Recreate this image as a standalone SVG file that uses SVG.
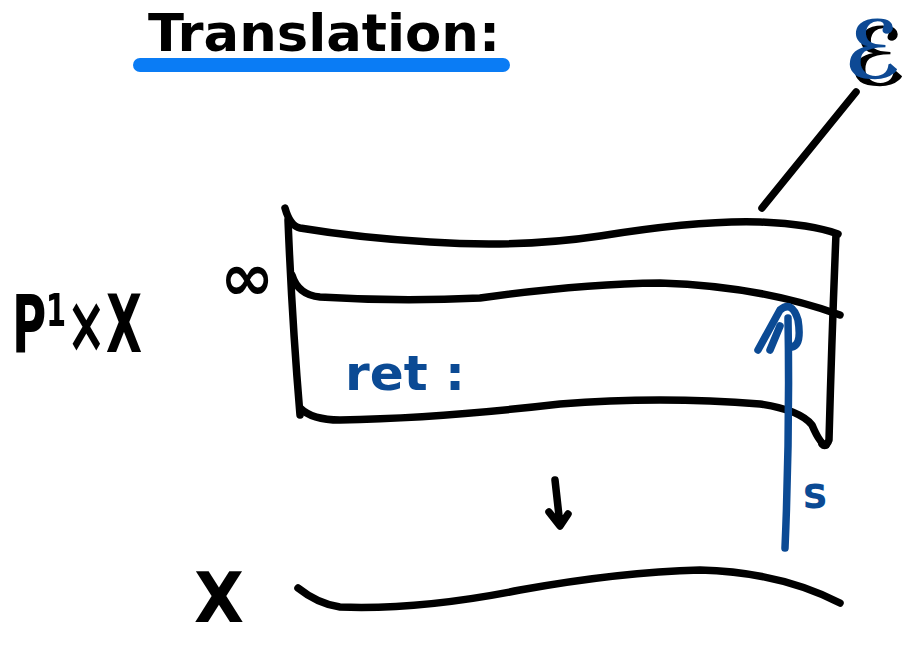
<svg xmlns="http://www.w3.org/2000/svg" width="911" height="645" viewBox="0 0 911 645">
<style>
.k{fill:none;stroke:#000;stroke-width:7.5;stroke-linecap:round;stroke-linejoin:round}
.b{fill:none;stroke:#0b4a94;stroke-width:7.5;stroke-linecap:round;stroke-linejoin:round}
.t{font-family:"DejaVu Sans Condensed","Liberation Sans",sans-serif;fill:#000}
.tb{font-family:"DejaVu Sans Condensed","Liberation Sans",sans-serif;fill:#0b4a94}
</style>
<defs>
<filter id="sh" x="-20%" y="-20%" width="160%" height="160%">
<feOffset in="SourceAlpha" dx="5" dy="7" result="o"/>
<feMerge><feMergeNode in="o"/><feMergeNode in="SourceGraphic"/></feMerge>
</filter>
</defs>
<rect width="911" height="645" fill="#fff"/>
<g id="title">
<text class="t" x="148" y="51" font-size="52" font-weight="bold" textLength="352" lengthAdjust="spacingAndGlyphs">Translation:</text>
<line x1="140" y1="65" x2="503" y2="65" stroke="#0a7cf5" stroke-width="14" stroke-linecap="round"/>
</g>
<g id="bundle">
<path class="k" d="M285,208 Q290,226 300,228 Q360,238 430,242 Q520,248 600,236 Q700,220 760,222 Q810,224 838,234"/>
<path class="k" d="M288,220 Q292,320 300,415"/>
<path class="k" d="M836,234 Q832,330 829,440 Q826,448 822,444"/>
<path class="k" d="M292,275 Q298,295 320,297 Q400,302 480,298 Q580,284 660,283 Q760,286 840,315"/>
<path class="k" d="M300,408 Q312,420 340,420 Q440,418 560,404 Q660,396 760,404 Q800,410 812,425 Q820,444 826,445"/>
<path class="k" d="M762,208 L856,92"/>
<text class="t" x="220" y="300" font-size="66" font-weight="bold" textLength="54" lengthAdjust="spacingAndGlyphs">∞</text>
<text class="tb" x="345" y="390" font-size="48" font-weight="bold" textLength="120" lengthAdjust="spacingAndGlyphs">ret :</text>
</g>
<g id="total">
<text class="t" x="12" y="352" font-size="80" font-weight="bold" textLength="130" lengthAdjust="spacingAndGlyphs">P¹×X</text>
</g>
<g id="base">
<text class="t" x="194" y="622" font-size="70" font-weight="bold" textLength="50" lengthAdjust="spacingAndGlyphs">X</text>
<path class="k" d="M298,588 Q318,604 340,607 Q420,610 520,590 Q620,572 700,570 Q780,572 840,603"/>
</g>
<g id="E">
<text class="tb" x="844" y="78" font-size="80" font-weight="bold" textLength="58" lengthAdjust="spacingAndGlyphs" filter="url(#sh)">ℰ</text>
</g>
<g id="connectors">
<path class="k" d="M555,480 L560,525 M549,512 L560,526 L568,514"/>
<path class="b" d="M785,548 Q790,430 788,318 M758,350 L780,310 Q792,300 798,320 Q802,345 792,347 M770,350 L780,326"/>
<text class="tb" x="803" y="508" font-size="44" font-weight="bold" textLength="24" lengthAdjust="spacingAndGlyphs">s</text>
</g>
</svg>
